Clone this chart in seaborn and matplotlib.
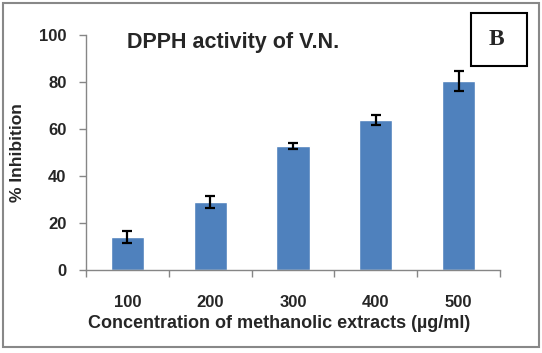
import pandas as pd
import seaborn as sns
import matplotlib.pyplot as plt
from matplotlib.patches import Rectangle

concentrations = ['100', '200', '300', '400', '500']
inhibition = [14.0, 28.9, 52.8, 63.8, 80.5]
errors = [2.6, 2.4, 1.3, 2.0, 4.3]
y_ticks = [0, 20, 40, 60, 80, 100]

sns.set_style('white')
plt.rcParams['font.family'] = ['Liberation Sans', 'DejaVu Sans']

fig = plt.figure(figsize=(5.42, 3.53), dpi=100)
ax = fig.add_axes([86 / 542, 1 - 270 / 353, 414 / 542, 235 / 353])

df = pd.DataFrame({'conc': concentrations, 'inh': inhibition})
sns.barplot(data=df, x='conc', y='inh', color='#4F81BD', saturation=1,
            width=0.4, ax=ax)
ax.errorbar(range(len(concentrations)), inhibition, yerr=errors, fmt='none',
            ecolor='black', elinewidth=1.6, capsize=3.6, capthick=1.6)

ax.set_xlim(-0.5, 4.5)
ax.set_ylim(0, 100)
ax.set_yticks(y_ticks)

# axes look
for s in ['top', 'right']:
    ax.spines[s].set_visible(False)
for s in ['left', 'bottom']:
    ax.spines[s].set_color('#868686')
    ax.spines[s].set_linewidth(1)

ax.tick_params(axis='y', left=True, direction='out', length=5, width=1,
               color='#868686', labelsize=12, pad=9)
ax.tick_params(axis='x', which='major', bottom=True, length=0, labelsize=12, pad=18)
ax.set_xticks([-0.5, 0.5, 1.5, 2.5, 3.5, 4.5], minor=True)
ax.tick_params(axis='x', which='minor', bottom=True, direction='out', length=5,
               width=1, color='#868686')
for lbl in ax.get_xticklabels() + ax.get_yticklabels():
    lbl.set_fontweight('bold')

ax.set_xlabel('Concentration of methanolic extracts (µg/ml)', fontsize=13,
              fontweight='bold')
ax.xaxis.set_label_coords((279 - 86) / 414, -0.19)
ax.set_ylabel('% Inhibition', fontsize=12.5, fontweight='bold', labelpad=10)

# title inside the plot
fig.text(127 / 542, 1 - 48 / 353, 'DPPH activity of V.N.', fontsize=15.5,
         fontweight='bold', ha='left', va='baseline')

# panel letter box
fig.patches.append(Rectangle((471 / 542, 1 - 66 / 353), 56 / 542, 53 / 353,
                             transform=fig.transFigure, fill=False,
                             ec='black', lw=1.5))
fig.text(496 / 542, 1 - 45 / 353, 'B', family='Liberation Serif', fontsize=17,
         fontweight='bold', ha='center', va='baseline')

# outer border
fig.patches.append(Rectangle((3 / 542, 6 / 353), 536 / 542, 344 / 353,
                             transform=fig.transFigure, fill=False,
                             ec='#888888', lw=1.5))

fig.savefig('out.png', dpi=100)
